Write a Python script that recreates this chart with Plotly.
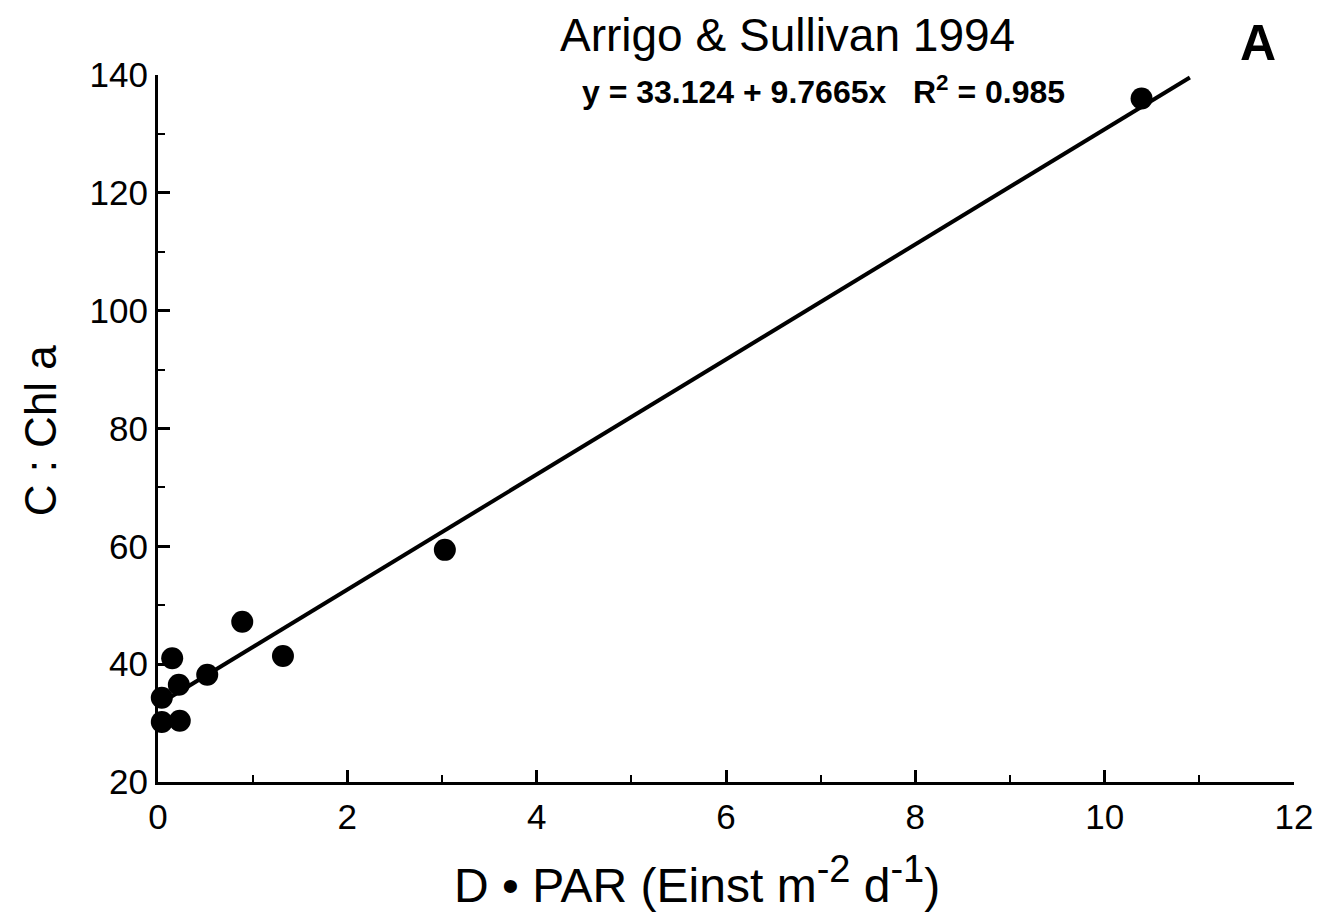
import plotly.graph_objects as go

# Data
x_vals = [10.39, 3.03, 0.89, 1.32, 0.52, 0.15, 0.22, 0.04, 0.23, 0.04]
y_vals = [136.0, 59.4, 47.2, 41.4, 38.2, 41.0, 36.5, 34.3, 30.4, 30.2]

# Regression from the chart's equation
intercept = 33.124
slope = 9.7665
line_x = [0.0, 10.9]
line_y = [intercept + slope * v for v in line_x]

x_ticks = [0, 2, 4, 6, 8, 10, 12]
y_ticks = [20, 40, 60, 80, 100, 120, 140]

FONT = "Liberation Sans, Arial, Helvetica, sans-serif"

fig = go.Figure()
fig.add_trace(go.Scatter(x=line_x, y=line_y, mode="lines",
                         line=dict(color="black", width=4),
                         cliponaxis=False, showlegend=False, hoverinfo="skip"))
fig.add_trace(go.Scatter(x=x_vals, y=y_vals, mode="markers",
                         marker=dict(color="black", size=22, line=dict(width=0)),
                         cliponaxis=False, showlegend=False))

axis_common = dict(
    showline=True, linecolor="black", linewidth=3,
    ticks="inside", ticklen=12, tickwidth=3, tickcolor="black",
    showgrid=False, zeroline=False,
    tickfont=dict(family=FONT, size=35, color="black"),
    minor=dict(ticks="inside", ticklen=7, tickwidth=2, tickcolor="black", showgrid=False),
)

fig.update_xaxes(range=[0, 12], tickvals=x_ticks, ticktext=[str(v) for v in x_ticks],
                 minor_dtick=1, ticklabelstandoff=2, **axis_common)
fig.update_yaxes(range=[20, 140], tickvals=y_ticks, ticktext=[str(v) for v in y_ticks],
                 minor_dtick=10, **axis_common)

sup = "<sup><span style='font-size:38px'>{}</span></sup>"
fig.add_annotation(text="D • PAR (Einst m" + sup.format("-2") + " d" + sup.format("-1") + ")",
                   xref="paper", yref="paper",
                   x=0.4746, y=-0.1386, xanchor="center", yanchor="middle", showarrow=False,
                   font=dict(family=FONT, size=48, color="black"))
fig.add_annotation(text="C : Chl a", xref="paper", yref="paper",
                   x=-0.1035, y=0.498, xanchor="center", yanchor="middle", textangle=-90,
                   showarrow=False, font=dict(family=FONT, size=44, color="black"))
fig.add_annotation(text="Arrigo &amp; Sullivan 1994", xref="paper", yref="paper",
                   x=0.554, y=1.057, xanchor="center", yanchor="middle", showarrow=False,
                   font=dict(family=FONT, size=46, color="black"))
fig.add_annotation(text="<b>A</b>", xref="paper", yref="paper",
                   x=0.968, y=1.045, xanchor="center", yanchor="middle", showarrow=False,
                   font=dict(family=FONT, size=50, color="black"))
fig.add_annotation(text="<b>y = 33.124 + 9.7665x   R<sup>2</sup> = 0.985</b>", xref="paper", yref="paper",
                   x=0.586, y=0.979, xanchor="center", yanchor="middle", showarrow=False,
                   font=dict(family=FONT, size=32, color="black"))

fig.update_layout(
    width=1317, height=915,
    margin=dict(l=150, r=27, t=67, b=141),
    plot_bgcolor="white", paper_bgcolor="white",
    showlegend=False,
)

fig.write_html("out.html")
